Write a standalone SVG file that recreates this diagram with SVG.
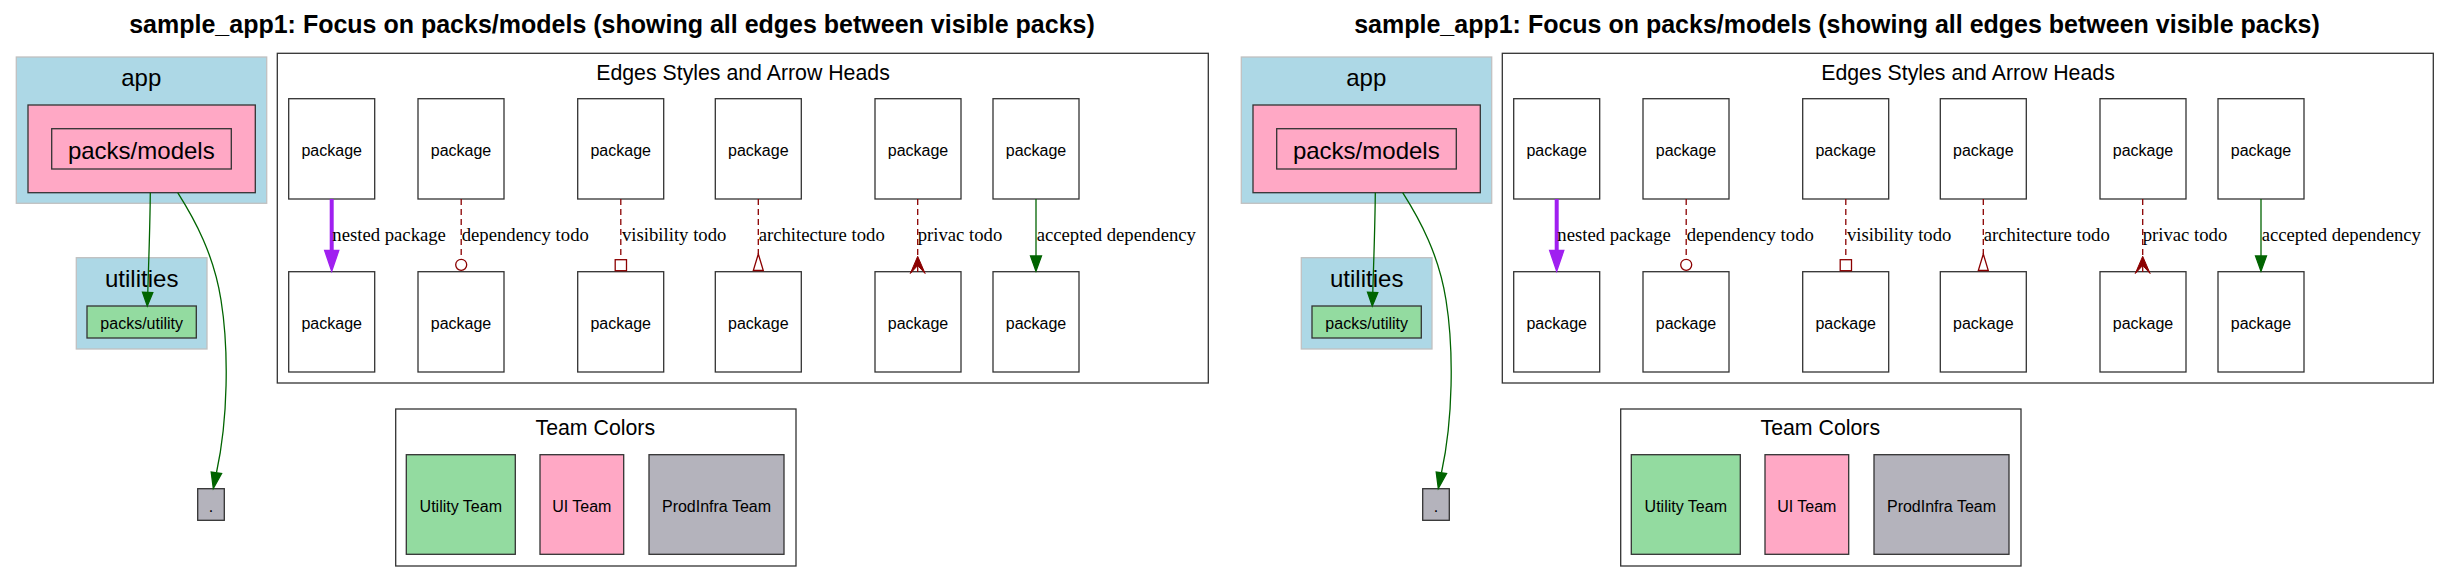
<svg xmlns="http://www.w3.org/2000/svg" width="2450" height="582" viewBox="0 0 2450 582">
<style>
text{font-family:"Liberation Sans",Arial,Helvetica,sans-serif;fill:#000}
.title{font-size:25px;font-weight:bold;text-anchor:middle}
.big{font-size:24px;text-anchor:middle}
.mid{font-size:21.3px;text-anchor:middle}
.sm{font-size:16px;text-anchor:middle}
.el{font-family:"Liberation Serif","Times New Roman",serif;font-size:18.7px}
.clu{fill:#add8e6;stroke:#c0c0c0;stroke-width:1.3}
.box{fill:#fff;stroke:#333;stroke-width:1.3}
.pink{fill:#ffa8c5;stroke:#333;stroke-width:1.3}
.green{fill:#93dba0;stroke:#333;stroke-width:1.3}
.gray{fill:#b4b3bc;stroke:#333;stroke-width:1.3}
.none{fill:none;stroke:#333;stroke-width:1.3}
.g{fill:none;stroke:#006400;stroke-width:1.3}
.ga{fill:#006400;stroke:#006400;stroke-width:1.3}
.r{fill:none;stroke:#8b0000;stroke-width:1.3;stroke-dasharray:6,4}
.ra{fill:none;stroke:#8b0000;stroke-width:1.3}
.rf{fill:#8b0000;stroke:#8b0000;stroke-width:1}
.p{fill:none;stroke:#a020f0;stroke-width:4}
.pa{fill:#a020f0;stroke:#a020f0;stroke-width:1.3}
</style>

<g id="half1">
<text class="title" x="612" y="33">sample_app1: Focus on packs/models (showing all edges between visible packs)</text>
<g id="cluster-app"><rect class="clu" x="16.3" y="57" width="250.4" height="146.3"/><text class="big" x="141.3" y="85.5">app</text></g>
<g id="node-models"><rect class="pink" x="28" y="105" width="227.3" height="87.7"/><rect class="none" x="51.7" y="128.7" width="179.6" height="40.3"/><text class="big" x="141.3" y="159.3">packs/models</text></g>
<g id="cluster-utilities"><rect class="clu" x="76.3" y="257.7" width="130.7" height="91.3"/><text class="big" x="141.7" y="287">utilities</text></g>
<g id="node-utility"><rect class="green" x="87" y="306" width="109.3" height="32"/><text class="sm" x="141.7" y="328.5">packs/utility</text></g>
<g id="node-root"><rect class="gray" x="197.7" y="488.7" width="26.6" height="31.6"/><text class="sm" x="211" y="512">.</text></g>

<g id="legend-edges">
<rect class="box" x="277.3" y="53.3" width="931" height="329.7"/>
<text class="mid" x="743" y="80">Edges Styles and Arrow Heads</text>
<g id="e-a1"><rect class="box" x="288.7" y="98.7" width="86" height="100.3"/><text class="sm" x="331.7" y="155.5">package</text></g>
<g id="e-b1"><rect class="box" x="288.7" y="271.7" width="86" height="100.3"/><text class="sm" x="331.7" y="328.8">package</text></g>
<g id="e-a2"><rect class="box" x="418" y="98.7" width="86" height="100.3"/><text class="sm" x="461" y="155.5">package</text></g>
<g id="e-b2"><rect class="box" x="418" y="271.7" width="86" height="100.3"/><text class="sm" x="461" y="328.8">package</text></g>
<g id="e-a3"><rect class="box" x="577.7" y="98.7" width="86" height="100.3"/><text class="sm" x="620.7" y="155.5">package</text></g>
<g id="e-b3"><rect class="box" x="577.7" y="271.7" width="86" height="100.3"/><text class="sm" x="620.7" y="328.8">package</text></g>
<g id="e-a4"><rect class="box" x="715.3" y="98.7" width="86" height="100.3"/><text class="sm" x="758.3" y="155.5">package</text></g>
<g id="e-b4"><rect class="box" x="715.3" y="271.7" width="86" height="100.3"/><text class="sm" x="758.3" y="328.8">package</text></g>
<g id="e-a5"><rect class="box" x="875" y="98.7" width="86" height="100.3"/><text class="sm" x="918" y="155.5">package</text></g>
<g id="e-b5"><rect class="box" x="875" y="271.7" width="86" height="100.3"/><text class="sm" x="918" y="328.8">package</text></g>
<g id="e-a6"><rect class="box" x="993" y="98.7" width="86" height="100.3"/><text class="sm" x="1036" y="155.5">package</text></g>
<g id="e-b6"><rect class="box" x="993" y="271.7" width="86" height="100.3"/><text class="sm" x="1036" y="328.8">package</text></g>
</g>

<g id="legend-teams">
<rect class="box" x="395.7" y="409" width="400.3" height="157"/>
<text class="mid" x="595.3" y="435.3">Team Colors</text>
<g id="team-utility"><rect class="green" x="406.3" y="454.7" width="109" height="99.6"/><text class="sm" x="460.8" y="512">Utility Team</text></g>
<g id="team-ui"><rect class="pink" x="540" y="454.7" width="83.7" height="99.6"/><text class="sm" x="581.8" y="512">UI Team</text></g>
<g id="team-prodinfra"><rect class="gray" x="649" y="454.7" width="135" height="99.6"/><text class="sm" x="716.5" y="512">ProdInfra Team</text></g>
</g>

<g id="connectors">
<path class="g" d="M150.3,192.7 C150,230 148.5,265 147.8,292.5"/>
<polygon class="ga" points="147.3,306 142.5,292.3 152.8,292.7"/>
<path class="g" d="M177.7,192.7 C195,220 214,255 221,300 C229,350 228,420 216.5,472.5"/>
<polygon class="ga" points="213.3,488.5 211.2,472 221.6,473.5"/>

<line class="p" x1="331.7" y1="199" x2="331.7" y2="251"/>
<polygon class="pa" points="331.7,271.2 324.6,250.5 338.8,250.5"/>
<text class="el" x="332.3" y="241">nested package</text>

<line class="r" x1="461.2" y1="199" x2="461.2" y2="259.3"/>
<circle class="ra" cx="461.2" cy="264.8" r="5.5" fill="none"/>
<text class="el" x="461.7" y="241">dependency todo</text>

<line class="r" x1="620.8" y1="199" x2="620.8" y2="259.7"/>
<rect class="ra" x="615.2" y="259.7" width="11.3" height="11"/>
<text class="el" x="622" y="241">visibility todo</text>

<line class="r" x1="758.3" y1="199" x2="758.3" y2="254"/>
<polygon class="ra" points="758.3,254 753.3,270.5 763.3,270.5"/>
<text class="el" x="758.7" y="241">architecture todo</text>

<line class="r" x1="917.7" y1="199" x2="917.7" y2="262"/>
<path class="rf" d="M917.7,256.3 L910.3,273.5 L917.7,265.5 L925.1,273.5 Z"/>
<line class="ra" x1="917.7" y1="262" x2="917.7" y2="272"/>
<text class="el" x="917.7" y="241">privac todo</text>

<line class="g" x1="1036" y1="199" x2="1036" y2="256"/>
<polygon class="ga" points="1036,271.2 1030.5,256 1041.5,256"/>
<text class="el" x="1036.7" y="241">accepted dependency</text>
</g>
</g>

<g id="half2" transform="translate(1225,0)">
<text class="title" x="612" y="33">sample_app1: Focus on packs/models (showing all edges between visible packs)</text>
<g id="cluster-app-2"><rect class="clu" x="16.3" y="57" width="250.4" height="146.3"/><text class="big" x="141.3" y="85.5">app</text></g>
<g id="node-models-2"><rect class="pink" x="28" y="105" width="227.3" height="87.7"/><rect class="none" x="51.7" y="128.7" width="179.6" height="40.3"/><text class="big" x="141.3" y="159.3">packs/models</text></g>
<g id="cluster-utilities-2"><rect class="clu" x="76.3" y="257.7" width="130.7" height="91.3"/><text class="big" x="141.7" y="287">utilities</text></g>
<g id="node-utility-2"><rect class="green" x="87" y="306" width="109.3" height="32"/><text class="sm" x="141.7" y="328.5">packs/utility</text></g>
<g id="node-root-2"><rect class="gray" x="197.7" y="488.7" width="26.6" height="31.6"/><text class="sm" x="211" y="512">.</text></g>

<g id="legend-edges-2">
<rect class="box" x="277.3" y="53.3" width="931" height="329.7"/>
<text class="mid" x="743" y="80">Edges Styles and Arrow Heads</text>
<g id="e-a1-2"><rect class="box" x="288.7" y="98.7" width="86" height="100.3"/><text class="sm" x="331.7" y="155.5">package</text></g>
<g id="e-b1-2"><rect class="box" x="288.7" y="271.7" width="86" height="100.3"/><text class="sm" x="331.7" y="328.8">package</text></g>
<g id="e-a2-2"><rect class="box" x="418" y="98.7" width="86" height="100.3"/><text class="sm" x="461" y="155.5">package</text></g>
<g id="e-b2-2"><rect class="box" x="418" y="271.7" width="86" height="100.3"/><text class="sm" x="461" y="328.8">package</text></g>
<g id="e-a3-2"><rect class="box" x="577.7" y="98.7" width="86" height="100.3"/><text class="sm" x="620.7" y="155.5">package</text></g>
<g id="e-b3-2"><rect class="box" x="577.7" y="271.7" width="86" height="100.3"/><text class="sm" x="620.7" y="328.8">package</text></g>
<g id="e-a4-2"><rect class="box" x="715.3" y="98.7" width="86" height="100.3"/><text class="sm" x="758.3" y="155.5">package</text></g>
<g id="e-b4-2"><rect class="box" x="715.3" y="271.7" width="86" height="100.3"/><text class="sm" x="758.3" y="328.8">package</text></g>
<g id="e-a5-2"><rect class="box" x="875" y="98.7" width="86" height="100.3"/><text class="sm" x="918" y="155.5">package</text></g>
<g id="e-b5-2"><rect class="box" x="875" y="271.7" width="86" height="100.3"/><text class="sm" x="918" y="328.8">package</text></g>
<g id="e-a6-2"><rect class="box" x="993" y="98.7" width="86" height="100.3"/><text class="sm" x="1036" y="155.5">package</text></g>
<g id="e-b6-2"><rect class="box" x="993" y="271.7" width="86" height="100.3"/><text class="sm" x="1036" y="328.8">package</text></g>
</g>

<g id="legend-teams-2">
<rect class="box" x="395.7" y="409" width="400.3" height="157"/>
<text class="mid" x="595.3" y="435.3">Team Colors</text>
<g id="team-utility-2"><rect class="green" x="406.3" y="454.7" width="109" height="99.6"/><text class="sm" x="460.8" y="512">Utility Team</text></g>
<g id="team-ui-2"><rect class="pink" x="540" y="454.7" width="83.7" height="99.6"/><text class="sm" x="581.8" y="512">UI Team</text></g>
<g id="team-prodinfra-2"><rect class="gray" x="649" y="454.7" width="135" height="99.6"/><text class="sm" x="716.5" y="512">ProdInfra Team</text></g>
</g>

<g id="connectors-2">
<path class="g" d="M150.3,192.7 C150,230 148.5,265 147.8,292.5"/>
<polygon class="ga" points="147.3,306 142.5,292.3 152.8,292.7"/>
<path class="g" d="M177.7,192.7 C195,220 214,255 221,300 C229,350 228,420 216.5,472.5"/>
<polygon class="ga" points="213.3,488.5 211.2,472 221.6,473.5"/>

<line class="p" x1="331.7" y1="199" x2="331.7" y2="251"/>
<polygon class="pa" points="331.7,271.2 324.6,250.5 338.8,250.5"/>
<text class="el" x="332.3" y="241">nested package</text>

<line class="r" x1="461.2" y1="199" x2="461.2" y2="259.3"/>
<circle class="ra" cx="461.2" cy="264.8" r="5.5" fill="none"/>
<text class="el" x="461.7" y="241">dependency todo</text>

<line class="r" x1="620.8" y1="199" x2="620.8" y2="259.7"/>
<rect class="ra" x="615.2" y="259.7" width="11.3" height="11"/>
<text class="el" x="622" y="241">visibility todo</text>

<line class="r" x1="758.3" y1="199" x2="758.3" y2="254"/>
<polygon class="ra" points="758.3,254 753.3,270.5 763.3,270.5"/>
<text class="el" x="758.7" y="241">architecture todo</text>

<line class="r" x1="917.7" y1="199" x2="917.7" y2="262"/>
<path class="rf" d="M917.7,256.3 L910.3,273.5 L917.7,265.5 L925.1,273.5 Z"/>
<line class="ra" x1="917.7" y1="262" x2="917.7" y2="272"/>
<text class="el" x="917.7" y="241">privac todo</text>

<line class="g" x1="1036" y1="199" x2="1036" y2="256"/>
<polygon class="ga" points="1036,271.2 1030.5,256 1041.5,256"/>
<text class="el" x="1036.7" y="241">accepted dependency</text>
</g>
</g>
</svg>
